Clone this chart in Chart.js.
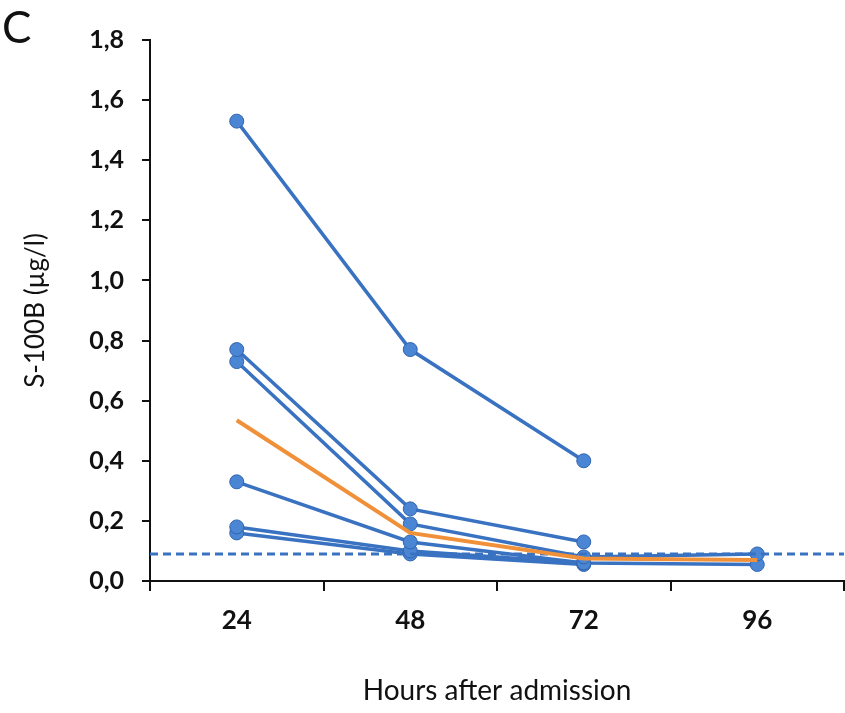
<!DOCTYPE html>
<html>
<head>
<meta charset="utf-8">
<script src="https://cdn.jsdelivr.net/npm/chart.js@4"></script>
<style>
  html, body { margin: 0; padding: 0; background: #fff; }
  #wrap { position: relative; width: 845px; height: 713px; overflow: hidden; }
  #panel { position: absolute; left: 2px; top: 0px; font: 44px Lato, sans-serif; color: #111; }
</style>
</head>
<body>
<div id="wrap">
  <canvas id="chart" width="852" height="713"></canvas>
  <div id="panel">C</div>
</div>
<script>
// ── Data ──
const hours = ['24', '48', '72', '96'];
const patientA = [1.53, 0.77, 0.40, null];
const patientB = [0.77, 0.24, 0.13, null];
const patientC = [0.73, 0.19, 0.08, 0.09];
const patientD = [0.33, 0.13, 0.06, 0.055];
const patientE = [0.18, 0.10, 0.06, null];
const patientF = [0.16, 0.09, 0.055, null];
const meanValues = [0.535, 0.16, 0.075, 0.07];
const cutoff = 0.09;
const yTicks = [0, 0.2, 0.4, 0.6, 0.8, 1.0, 1.2, 1.4, 1.6, 1.8];

// ── Styles ──
const BLUE_LINE = '#3a72c2';
const BLUE_DOT = '#4a86d4';
const ORANGE = '#f0913a';
const FONT = 'Lato, sans-serif';

function patient(values) {
  return {
    data: values,
    borderColor: BLUE_LINE,
    borderWidth: 3.5,
    backgroundColor: BLUE_DOT,
    pointBorderColor: '#2f64b0',
    pointBorderWidth: 1,
    pointRadius: 7,
    spanGaps: false,
    order: 2,
  };
}

const datasets = [
  patient(patientA),
  patient(patientB),
  patient(patientC),
  patient(patientD),
  patient(patientE),
  patient(patientF),
  {
    data: meanValues,
    borderColor: ORANGE,
    borderWidth: 4,
    pointRadius: 0,
    order: 0,
  },
  {
    // cut-off line, spans the whole plot on its own 0..1 axis
    data: [{ x: 0, y: cutoff }, { x: 1, y: cutoff }],
    xAxisID: 'xline',
    borderColor: BLUE_LINE,
    borderWidth: 3,
    borderDash: [8, 5],
    pointRadius: 0,
    order: 1,
  },
];

new Chart(document.getElementById('chart'), {
  type: 'line',
  data: { labels: hours, datasets },
  options: {
    responsive: false,
    animation: false,
    layout: { padding: { top: 40, right: 0, bottom: 0, left: 0 } },
    plugins: { legend: { display: false }, tooltip: { enabled: false } },
    scales: {
      x: {
        type: 'category',
        offset: true,
        grid: { display: true, offset: true, drawOnChartArea: false, color: '#111', lineWidth: 2, tickLength: 10 },
        border: { color: '#111', width: 2 },
        ticks: { color: '#111', font: { family: FONT, size: 26, weight: 'bold' }, padding: 14 },
        title: {
          display: true,
          text: 'Hours after admission',
          color: '#111',
          font: { family: FONT, size: 28 },
          padding: { top: 0, bottom: 5 },
        },
        afterFit: s => { s.height = 132; },
      },
      xline: { type: 'linear', min: 0, max: 1, display: false },
      y: {
        min: 0,
        max: 1.8,
        afterBuildTicks: s => { s.ticks = yTicks.map(v => ({ value: v })); },
        grid: { display: true, drawOnChartArea: false, color: '#111', lineWidth: 2, tickLength: 8 },
        border: { color: '#111', width: 2 },
        ticks: {
          color: '#111',
          font: { family: FONT, size: 25, weight: 'bold' },
          padding: 18,
          callback: v => v.toFixed(1).replace('.', ','),
        },
        title: {
          display: true,
          text: 'S-100B (µg/l)',
          color: '#111',
          font: { family: FONT, size: 26 },
          padding: { top: 20, bottom: 0 },
        },
        afterFit: s => { s.width = 150; },
      },
    },
  },
});
</script>
</body>
</html>
